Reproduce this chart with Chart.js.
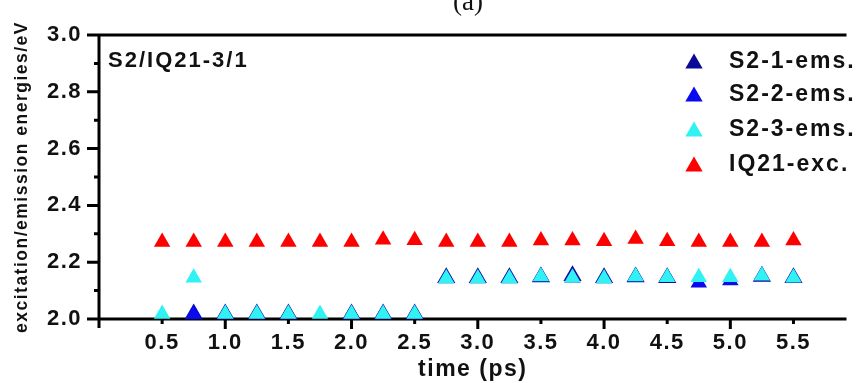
<!DOCTYPE html>
<html>
<head>
<meta charset="utf-8">
<script src="https://cdn.jsdelivr.net/npm/chart.js@4/dist/chart.umd.min.js"></script>
<style>
    html, body { margin: 0; padding: 0; background: #fff; }
    #wrap { width: 857px; height: 383px; }
</style>
</head>
<body>
<div id="wrap"><canvas id="chart" width="857" height="383"></canvas></div>
<script>
/* ================= DATA ================= */
const times = [0.5, 0.75, 1.0, 1.25, 1.5, 1.75, 2.0, 2.25, 2.5, 2.75, 3.0,
               3.25, 3.5, 3.75, 4.0, 4.25, 4.5, 4.75, 5.0, 5.25, 5.5];
const s2_1_ems = [null, 2.018, 2.018, 2.018, 2.018, null, 2.018, 2.018, 2.018, 2.145, 2.145,
                  2.145, 2.148, 2.152, 2.145, 2.148, 2.145, null, null, 2.150, 2.145];
const s2_2_ems = [null, 2.018, 2.018, 2.018, 2.018, null, 2.018, 2.018, 2.018, 2.143, 2.143,
                  2.143, 2.150, 2.145, 2.143, 2.150, 2.147, 2.128, 2.136, 2.152, 2.145];
const s2_3_ems = [2.018, 2.145, 2.018, 2.018, 2.018, 2.018, 2.018, 2.018, 2.018, 2.143, 2.143,
                  2.143, 2.150, 2.145, 2.143, 2.150, 2.147, 2.147, 2.147, 2.152, 2.145];
const iq21_exc = [2.271, 2.271, 2.271, 2.271, 2.271, 2.271, 2.271, 2.279, 2.277, 2.271, 2.271,
                  2.271, 2.276, 2.276, 2.274, 2.282, 2.274, 2.271, 2.271, 2.271, 2.276];

const seriesNames = ["S2-1-ems.", "S2-2-ems.", "S2-3-ems.", "IQ21-exc."];
const seriesColors = ["#0a0a96", "#0a0aee", "#30f2f2", "#ff0000"];
const yTicks = [2.0, 2.2, 2.4, 2.6, 2.8, 3.0];
const xTicks = [0.5, 1.0, 1.5, 2.0, 2.5, 3.0, 3.5, 4.0, 4.5, 5.0, 5.5];

const FONT = "'Liberation Sans', Arial, sans-serif";

function points(arr) {
    return times.map((t, i) => ({ x: t, y: arr[i] }));
}

/* ================= AXES / LEGEND PLUGIN ================= */
const framePlugin = {
    id: "frame",
    beforeDraw(chart) {
        chart.ctx.letterSpacing = "1.5px";
    },
    beforeDatasetsDraw(chart) {
        const ctx = chart.ctx, a = chart.chartArea;
        const xs = chart.scales.x, ys = chart.scales.y;
        ctx.save();
        ctx.strokeStyle = "#000";
        ctx.lineWidth = 3;
        ctx.beginPath();
        ctx.moveTo(a.left, a.top - 1.5); ctx.lineTo(a.left, a.bottom + 9);
        ctx.moveTo(a.left - 11, a.bottom); ctx.lineTo(a.right, a.bottom);
        ctx.moveTo(a.left - 12, a.top); ctx.lineTo(a.right, a.top);
        for (let v = 20; v <= 30; v++) {
            const py = ys.getPixelForValue(v / 10);
            const len = v % 2 === 0 ? 12 : 5;
            ctx.moveTo(a.left - len, py); ctx.lineTo(a.left, py);
        }
        xTicks.forEach((t, k) => {
            const px = xs.getPixelForValue(t);
            const len = k % 2 === 1 ? 10 : 5;
            ctx.moveTo(px, a.bottom); ctx.lineTo(px, a.bottom + len);
        });
        ctx.stroke();
        ctx.restore();
    },
    afterDraw(chart) {
        const ctx = chart.ctx;
        ctx.save();
        ctx.fillStyle = "#111";
        ctx.textBaseline = "middle";
        ctx.letterSpacing = "2px";
        ctx.font = "bold 22px " + FONT;
        ctx.textAlign = "left";
        ctx.fillText("S2/IQ21-3/1", 108, 61);

        // legend
        ctx.font = "bold 23px " + FONT;
        const rows = [61, 94, 129, 164];
        rows.forEach((ry, i) => {
            const r = 10, cx = 694, cy = ry + r / 4;
            ctx.fillStyle = seriesColors[i];
            ctx.beginPath();
            ctx.moveTo(cx, cy - r);
            ctx.lineTo(cx + r * 0.866, cy + r / 2);
            ctx.lineTo(cx - r * 0.866, cy + r / 2);
            ctx.closePath();
            ctx.fill();
            ctx.fillStyle = "#111";
            ctx.fillText(seriesNames[i], 729, ry + 1);
        });

        // panel label
        ctx.letterSpacing = "0px";
        ctx.font = "27px 'Liberation Serif', serif";
        ctx.textAlign = "center";
        ctx.textBaseline = "alphabetic";
        ctx.fillText("(a)", 468, 10);
        ctx.restore();
    }
};

/* ================= CHART ================= */
const mk = (i, arr, radius, order) => ({
    label: seriesNames[i],
    data: points(arr),
    backgroundColor: seriesColors[i],
    borderColor: seriesColors[i],
    pointStyle: "triangle",
    pointRadius: radius,
    pointBorderWidth: 0,
    showLine: false,
    clip: false,
    order: order
});

new Chart(document.getElementById("chart"), {
    type: "scatter",
    data: {
        datasets: [
            mk(0, s2_1_ems, 10.5, 3),
            mk(1, s2_2_ems, 9.5, 2),
            mk(2, s2_3_ems, 9.5, 1),
            mk(3, iq21_exc, 9.5, 0)
        ]
    },
    options: {
        responsive: false,
        animation: false,
        layout: { padding: { top: 35, right: 0, left: 0, bottom: 0 } },
        plugins: { legend: { display: false }, tooltip: { enabled: false } },
        scales: {
            x: {
                type: "linear",
                min: 0,
                max: 5.92,
                afterFit(s) { s.height = 64; },
                afterBuildTicks(s) { s.ticks = xTicks.map(v => ({ value: v })); },
                ticks: {
                    callback: v => v.toFixed(1),
                    font: { family: FONT, size: 22, weight: "bold" },
                    color: "#111",
                    padding: 11,
                    maxRotation: 0,
                    autoSkip: false
                },
                grid: { display: false, drawTicks: false },
                border: { display: false },
                title: {
                    display: true,
                    text: "time (ps)",
                    font: { family: FONT, size: 23, weight: "bold" },
                    color: "#111",
                    padding: { top: 0, bottom: 0 }
                }
            },
            y: {
                min: 2.0,
                max: 3.0,
                afterFit(s) { s.width = 99; },
                afterBuildTicks(s) { s.ticks = yTicks.map(v => ({ value: v })); },
                ticks: {
                    callback: v => v.toFixed(1),
                    font: { family: FONT, size: 22, weight: "bold" },
                    color: "#111",
                    padding: 17
                },
                grid: { display: false, drawTicks: false },
                border: { display: false },
                title: {
                    display: true,
                    text: "excitation/emission energies/eV",
                    font: { family: FONT, size: 17.5, weight: "bold" },
                    color: "#111",
                    padding: { top: 12, bottom: 0 }
                }
            }
        }
    },
    plugins: [framePlugin]
});
</script>
</body>
</html>
